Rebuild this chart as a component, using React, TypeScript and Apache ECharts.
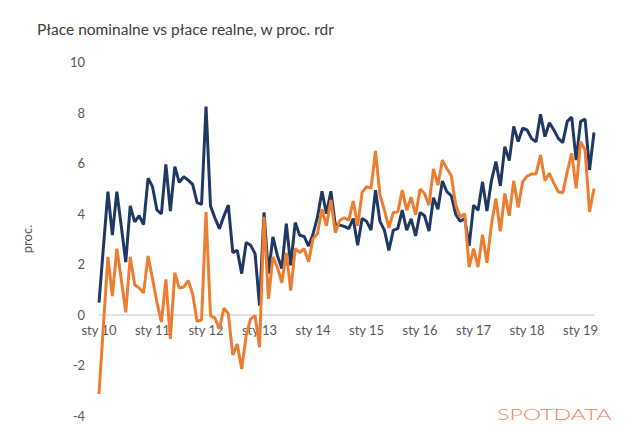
import React, { useEffect, useRef } from 'react';
import * as echarts from 'echarts';

const monthNames = ['sty', 'lut', 'mar', 'kwi', 'maj', 'cze', 'lip', 'sie', 'wrz', 'paź', 'lis', 'gru'];
const years = ['10', '11', '12', '13', '14', '15', '16', '17', '18', '19'];
const lastMonthIndex = 111; // kwi 19

// nominal wages, % y/y
const nominal = [
  0.48, 2.7, 4.87, 3.15, 4.87, 3.5, 2.09, 4.31, 3.68, 3.92, 3.57, 5.4,
  5.07, 4.14, 4.0, 5.95, 4.1, 5.86, 5.24, 5.46, 5.33, 5.16, 4.44, 4.37,
  8.24, 4.31, 3.83, 3.41, 3.9, 4.34, 2.46, 2.55, 1.63, 2.86, 2.75, 2.42,
  0.37, 4.05, 1.63, 3.08, 2.35, 1.83, 3.61, 1.96, 3.65, 3.15, 3.1, 2.72,
  3.2, 3.87, 4.89, 4.0, 4.89, 3.55, 3.55, 3.5, 3.41, 3.81, 2.75, 3.81,
  3.7, 3.35, 4.93, 3.7, 3.35, 2.55, 3.35, 3.41, 4.14, 3.35, 3.8, 3.12,
  4.05, 3.92, 3.31, 4.63, 4.18, 5.29, 4.87, 4.71, 3.97, 3.7, 3.81, 2.73,
  4.34, 4.14, 5.26, 4.11, 5.3, 6.06, 5.1, 6.65, 6.1, 7.45, 6.85, 7.38,
  7.31, 6.97, 6.85, 7.93, 7.05, 7.6, 7.31, 6.98, 6.81, 7.65, 7.82, 6.12,
  7.65, 7.74, 5.73, 7.21,
];

// real wages, % y/y
const real = [
  -3.13, -0.4, 2.29, 0.74, 2.62, 1.4, 0.1, 2.29, 1.19, 1.06, 0.87, 2.33,
  1.43, 0.5, -0.29, 1.4, -0.95, 1.67, 1.06, 1.1, 1.36, 0.83, -0.26, -0.2,
  4.07, -0.03, -0.13, -0.56, 0.26, 0.04, -1.59, -1.15, -2.14, -0.82, -0.16, -0.03,
  -1.28, 3.88, 0.63, 2.29, 1.89, 1.27, 2.46, 0.96, 2.62, 2.46, 2.62, 2.1,
  3.02, 3.21, 4.18, 3.52, 4.54, 3.25, 3.74, 3.84, 3.74, 4.5, 3.52, 4.84,
  5.07, 5.0, 6.48, 4.74, 4.14, 3.44, 4.05, 4.07, 4.93, 4.14, 4.65, 3.95,
  4.97, 4.8, 4.34, 5.77, 5.13, 6.12, 5.79, 5.5, 4.34, 3.87, 4.0, 1.89,
  2.62, 1.89, 3.17, 2.06, 3.57, 4.6, 3.3, 4.8, 3.92, 5.3, 4.25, 5.26,
  5.49, 5.57, 5.57, 6.32, 5.3, 5.6, 5.2, 4.87, 4.83, 5.66, 6.39, 5.0,
  6.85, 6.52, 4.07, 5.0,
];

const yMin = -4;
const yMax = 10;

const categories: string[] = [];
years.forEach((y) => monthNames.forEach((m) => categories.push(`${m} ${y}`)));
const months = categories.slice(0, lastMonthIndex + 1);

const GRID_TOP = 62;
const GRID_BOTTOM = 9;
const HEIGHT = 425;

const App: React.FC = () => {
  const chartRef = useRef<HTMLDivElement>(null);

  useEffect(() => {
    if (!chartRef.current) return;
    const chart = echarts.init(chartRef.current, undefined, { renderer: 'svg' });

    // put the category axis (line + labels) on the zero line
    const gridH = HEIGHT - GRID_TOP - GRID_BOTTOM;
    const zeroOffset = (gridH * (0 - yMin)) / (yMax - yMin);

    const option: echarts.EChartsOption = {
      animation: false,
      backgroundColor: '#ffffff',
      textStyle: { fontFamily: 'Lato' },
      title: {
        text: 'Płace nominalne vs płace realne, w proc. rdr',
        left: 32,
        top: 16,
        textStyle: { fontFamily: 'Lato', fontSize: 15.5, fontWeight: 'normal', color: '#404040' },
      },
      grid: { left: 99, right: 46, top: GRID_TOP, bottom: GRID_BOTTOM },
      xAxis: {
        type: 'category',
        data: months,
        boundaryGap: false,
        position: 'bottom',
        offset: -zeroOffset,
        axisLine: { onZero: false, lineStyle: { color: '#d9d9d9', width: 1.5 } },
        axisTick: { show: false },
        axisLabel: { interval: 11, color: '#595959', fontSize: 13, margin: 9 },
        splitLine: { show: false },
      },
      yAxis: {
        type: 'value',
        min: yMin,
        max: yMax,
        interval: 2,
        name: 'proc.',
        nameLocation: 'middle',
        nameGap: 66,
        nameTextStyle: { color: '#595959', fontSize: 13 },
        axisLine: { show: false },
        axisTick: { show: false },
        axisLabel: { color: '#595959', fontSize: 13, margin: 14 },
        splitLine: { show: false },
      },
      series: [
        {
          name: 'nominalne',
          type: 'line',
          data: nominal,
          showSymbol: false,
          lineStyle: { color: '#1f3864', width: 3 },
          itemStyle: { color: '#1f3864' },
          z: 2,
        },
        {
          name: 'realne',
          type: 'line',
          data: real,
          showSymbol: false,
          lineStyle: { color: '#ed7d31', width: 3 },
          itemStyle: { color: '#ed7d31' },
          z: 3,
        },
      ],
      graphic: [
        {
          type: 'text',
          x: 497,
          y: 406,
          scaleX: 1.45,
          style: {
            text: 'SPOTDATA',
            fill: '#f4845f',
            fontSize: 16,
            fontFamily: 'Lato',
            fontWeight: 300,
          },
        },
      ],
    };

    chart.setOption(option);
    return () => {
      chart.dispose();
    };
  }, []);

  return (
    <div
      ref={chartRef}
      style={{ position: 'fixed', left: 0, top: 0, width: '640px', height: '425px' }}
    />
  );
};

export default App;
